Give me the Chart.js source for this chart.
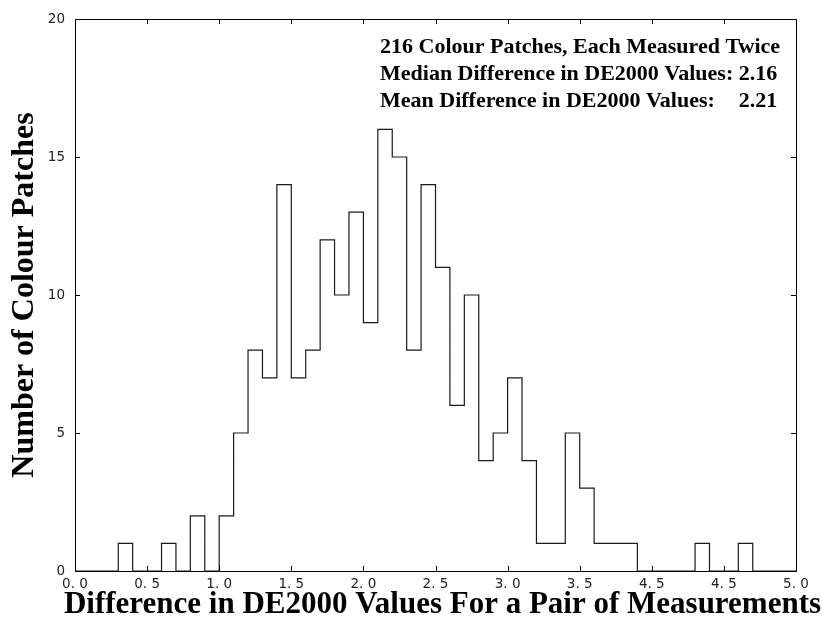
<!DOCTYPE html>
<html>
<head>
<meta charset="utf-8">
<script src="https://cdn.jsdelivr.net/npm/chart.js@4/dist/chart.umd.min.js"></script>
<style>
  html, body { margin: 0; padding: 0; background: #fff; }
</style>
</head>
<body>
<canvas id="hist" width="822" height="618"></canvas>
<script>
// histogram of DE2000 differences, bins of 0.1 from 0.0 to 5.0
const binWidth = 0.1;
const counts = [
  0, 0, 0, 1, 0, 0, 1, 0, 2, 0,
  2, 5, 8, 7, 14, 7, 8, 12, 10, 13,
  9, 16, 15, 8, 14, 11, 6, 10, 4, 5,
  7, 4, 1, 1, 5, 3, 1, 1, 1, 0,
  0, 0, 0, 1, 0, 0, 1, 0, 0, 0
];
const xTickLabels = ['0. 0', '0. 5', '1. 0', '1. 5', '2. 0', '2. 5', '3. 0', '3. 5', '4. 5', '4. 5', '5. 0'];
const yTickLabels = ['0', '5', '10', '15', '20'];
const xTitle = 'Difference in DE2000 Values For a Pair of Measurements';
const yTitle = 'Number of Colour Patches';
const patchCount = 216;
const medianDiff = 2.16;
const meanDiff = 2.21;

// left edge of each bin holds its count, closing point at the right end
const steps = counts.map((c, i) => ({ x: +(i * binWidth).toFixed(1), y: c }));
steps.push({ x: +(counts.length * binWidth).toFixed(1), y: 0 });

const serifBold = size => 'bold ' + size + 'px "Liberation Serif", "Times New Roman", serif';

// inward ticks on all four sides, top/right frame, x title and the summary text
const framePlugin = {
  id: 'frame',
  afterDraw(chart) {
    const { ctx, chartArea: a, scales: { x, y } } = chart;
    const al = v => Math.round(v) + 0.5;
    const tickLen = 5;
    ctx.save();
    ctx.strokeStyle = '#000';
    ctx.lineWidth = 1;
    ctx.beginPath();
    ctx.moveTo(al(a.left), al(a.top));
    ctx.lineTo(al(a.right), al(a.top));
    ctx.lineTo(al(a.right), al(a.bottom));
    x.ticks.forEach(t => {
      const px = al(x.getPixelForValue(t.value));
      ctx.moveTo(px, a.bottom);
      ctx.lineTo(px, a.bottom - tickLen);
      ctx.moveTo(px, a.top);
      ctx.lineTo(px, a.top + tickLen);
    });
    y.ticks.forEach(t => {
      const py = al(y.getPixelForValue(t.value));
      ctx.moveTo(a.left, py);
      ctx.lineTo(a.left + tickLen, py);
      ctx.moveTo(a.right, py);
      ctx.lineTo(a.right - tickLen, py);
    });
    ctx.stroke();

    ctx.fillStyle = '#000';
    ctx.textBaseline = 'alphabetic';

    // x title is wider than the plot, so it is drawn here without squeezing
    ctx.font = serifBold(31);
    ctx.textAlign = 'center';
    ctx.fillText(xTitle, (a.left + a.right) / 2 + 7, chart.height - 5);

    ctx.font = serifBold(22);
    ctx.textAlign = 'left';
    const tx = a.left + 305;
    const medianLead = 'Median Difference in DE2000 Values: ';
    const valueX = tx + ctx.measureText(medianLead).width;
    ctx.fillText(patchCount + ' Colour Patches, Each Measured Twice', tx, a.top + 34);
    ctx.fillText(medianLead, tx, a.top + 61);
    ctx.fillText(medianDiff.toFixed(2), valueX, a.top + 61);
    ctx.fillText('Mean Difference in DE2000 Values:', tx, a.top + 88);
    ctx.fillText(meanDiff.toFixed(2), valueX, a.top + 88);
    ctx.restore();
  }
};

Chart.defaults.color = '#000';

new Chart(document.getElementById('hist'), {
  type: 'line',
  data: {
    datasets: [{
      data: steps,
      stepped: 'before',
      borderColor: '#1a1a1a',
      borderWidth: 1.2,
      pointRadius: 0,
      fill: false
    }]
  },
  options: {
    responsive: false,
    animation: false,
    devicePixelRatio: 1,
    layout: { padding: { top: 19, right: 26, left: 0, bottom: 0 } },
    plugins: {
      legend: { display: false },
      tooltip: { enabled: false }
    },
    scales: {
      x: {
        type: 'linear',
        min: 0,
        max: 5,
        afterFit: s => { s.height = 47; },
        ticks: {
          stepSize: 0.5,
          autoSkip: false,
          maxRotation: 0,
          padding: 5,
          color: '#222',
          font: { family: '"DejaVu Sans"', size: 13.5 },
          callback: (v, i) => xTickLabels[i]
        },
        grid: { drawOnChartArea: false, drawTicks: false },
        border: { display: true, color: '#000', width: 1 }
      },
      y: {
        min: 0,
        max: 20,
        afterFit: s => { s.width = 75; },
        ticks: {
          stepSize: 5,
          padding: 10,
          color: '#222',
          font: { family: '"DejaVu Sans"', size: 13.5 },
          callback: (v, i) => yTickLabels[i]
        },
        grid: { drawOnChartArea: false, drawTicks: false },
        border: { display: true, color: '#000', width: 1 },
        title: {
          display: true,
          text: yTitle,
          color: '#000',
          padding: { top: 9, bottom: 0 },
          font: { family: '"Liberation Serif"', size: 32, weight: 'bold', lineHeight: 1 }
        }
      }
    }
  },
  plugins: [framePlugin]
});
</script>
</body>
</html>
